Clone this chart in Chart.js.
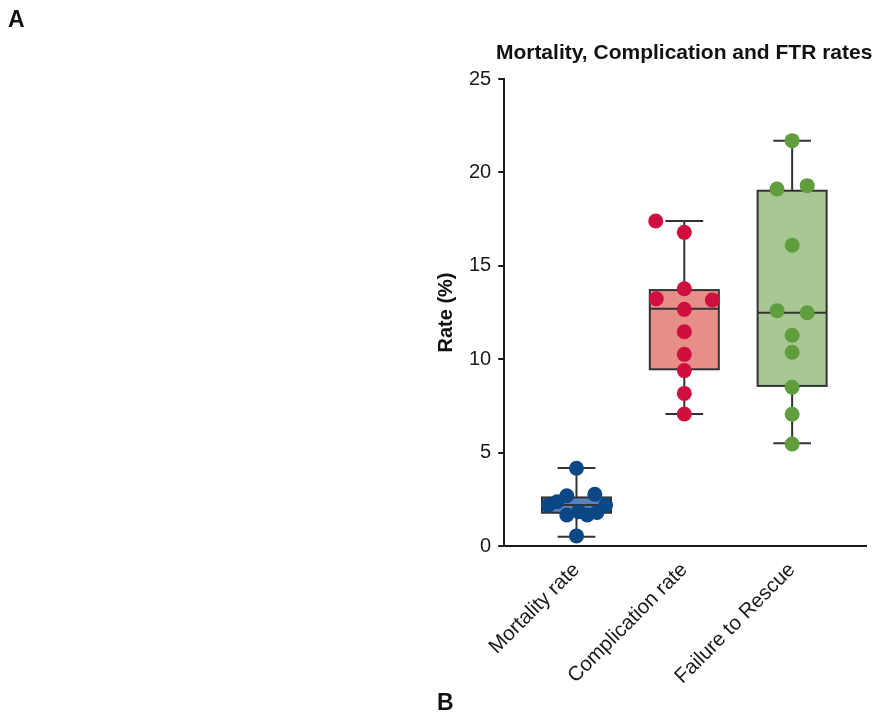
<!DOCTYPE html>
<html>
<head>
<meta charset="utf-8">
<script src="https://cdn.jsdelivr.net/npm/chart.js@4.4.1/dist/chart.umd.min.js"></script>
<style>
    html, body { margin: 0; padding: 0; background: #fff; }
    #wrap { position: absolute; left: 0; top: 0; width: 876px; height: 713px; }
</style>
</head>
<body>
<div id="wrap"><canvas id="boxChart"></canvas></div>
<script>
const categories = ["Mortality rate", "Complication rate", "Failure to Rescue"];
const yTicks = [0, 5, 10, 15, 20, 25];

// per-group values (points), their horizontal jitter in category units
const mortalityValues = [4.16, 0.54, 2.19, 2.37, 2.69, 2.77, 2.19, 1.66, 1.84, 1.66, 1.80];
const mortalityJitter = [0, 0, -0.26, -0.18, -0.09, 0.17, 0.27, -0.09, 0.02, 0.10, 0.19];
const complicationValues = [17.4, 16.79, 13.77, 13.24, 13.17, 12.67, 11.47, 10.26, 9.39, 8.17, 7.07];
const complicationJitter = [-0.265, 0, 0, -0.26, 0.26, 0, 0, 0, 0, 0, 0];
const ftrValues = [21.7, 19.11, 19.29, 16.1, 12.6, 12.49, 11.28, 10.37, 8.5, 7.05, 5.46];
const ftrJitter = [0, -0.14, 0.14, 0, -0.14, 0.14, 0, 0, 0, 0, 0];

// box summaries: [min, q1, median, q3, max]
const mortalityBox = [0.5, 1.78, 2.2, 2.6, 4.18];
const complicationBox = [7.07, 9.46, 12.7, 13.7, 17.4];
const ftrBox = [5.5, 8.57, 12.49, 19.02, 21.7];

const pointColors = ["#0b4785", "#cf0f3e", "#5f9d3d"];
const boxColors = ["#5b82bb", "#e68f88", "#a8c795"];
const ink = "#1a1a1a";

const groups = [
    { values: mortalityValues, jitter: mortalityJitter, box: mortalityBox },
    { values: complicationValues, jitter: complicationJitter, box: complicationBox },
    { values: ftrValues, jitter: ftrJitter, box: ftrBox },
];

const BOX_HALF = 0.32;
const CAP_HALF = 0.175;

// draws boxes + whiskers behind the points
const boxPlotPlugin = {
    id: "boxPlot",
    beforeDatasetsDraw(chart) {
        const { ctx, scales: { x, y } } = chart;
        ctx.save();
        ctx.strokeStyle = "#333";
        ctx.lineWidth = 2;
        groups.forEach((g, i) => {
            const [mn, q1, med, q3, mx] = g.box;
            const cx = x.getPixelForValue(i);
            const l = x.getPixelForValue(i - BOX_HALF);
            const r = x.getPixelForValue(i + BOX_HALF);
            const cl = x.getPixelForValue(i - CAP_HALF);
            const cr = x.getPixelForValue(i + CAP_HALF);

            ctx.beginPath();
            ctx.moveTo(cx, y.getPixelForValue(mx));
            ctx.lineTo(cx, y.getPixelForValue(q3));
            ctx.moveTo(cx, y.getPixelForValue(q1));
            ctx.lineTo(cx, y.getPixelForValue(mn));
            ctx.moveTo(cl, y.getPixelForValue(mx));
            ctx.lineTo(cr, y.getPixelForValue(mx));
            ctx.moveTo(cl, y.getPixelForValue(mn));
            ctx.lineTo(cr, y.getPixelForValue(mn));
            ctx.stroke();

            const top = y.getPixelForValue(q3);
            const bot = y.getPixelForValue(q1);
            ctx.fillStyle = boxColors[i];
            ctx.fillRect(l, top, r - l, bot - top);
            ctx.strokeRect(l, top, r - l, bot - top);

            ctx.beginPath();
            ctx.moveTo(l, y.getPixelForValue(med));
            ctx.lineTo(r, y.getPixelForValue(med));
            ctx.stroke();
        });
        ctx.restore();
    },
    afterDraw(chart) {
        const { ctx, chartArea } = chart;
        ctx.save();
        ctx.fillStyle = "#111";
        ctx.textBaseline = "alphabetic";
        ctx.textAlign = "center";
        ctx.font = "bold 21px 'Liberation Sans', Arial, sans-serif";
        ctx.fillText("Mortality, Complication and FTR rates", (chartArea.left + chartArea.right) / 2 - 1, 59);
        ctx.textAlign = "left";
        ctx.font = "bold 23px 'Liberation Sans', Arial, sans-serif";
        ctx.fillText("A", 8, 27);
        ctx.fillText("B", 437, 710);
        ctx.restore();
    },
};

const ctx = document.getElementById("boxChart").getContext("2d");
new Chart(ctx, {
    type: "scatter",
    data: {
        datasets: groups.map((g, i) => ({
            label: categories[i],
            data: g.values.map((v, k) => ({ x: i + g.jitter[k], y: v })),
            backgroundColor: pointColors[i],
            borderWidth: 0,
            pointRadius: 7.5,
            pointHoverRadius: 7.5,
        })),
    },
    options: {
        responsive: true,
        maintainAspectRatio: false,
        animation: false,
        layout: { padding: { left: 434, right: 10, top: 79, bottom: 20 } },
        plugins: {
            legend: { display: false },
            tooltip: { enabled: false },
        },
        scales: {
            x: {
                type: "linear",
                min: -0.67,
                max: 2.685,
                afterBuildTicks: (scale) => {
                    scale.ticks = categories.map((c, i) => ({ value: i }));
                },
                ticks: {
                    autoSkip: false,
                    minRotation: 45,
                    maxRotation: 45,
                    padding: 4,
                    color: ink,
                    font: { family: "'Liberation Sans', Arial, sans-serif", size: 20.5 },
                    callback: (value) => categories[value],
                },
                grid: { display: false },
                border: { display: true, color: ink, width: 2 },
            },
            y: {
                min: 0,
                max: 25,
                afterBuildTicks: (scale) => {
                    scale.ticks = yTicks.map((v) => ({ value: v }));
                },
                ticks: {
                    padding: 7,
                    color: ink,
                    font: { family: "'Liberation Sans', Arial, sans-serif", size: 20 },
                },
                grid: { drawOnChartArea: false, tickLength: 6, lineWidth: 2, color: ink },
                border: { display: true, color: ink, width: 2 },
                title: {
                    display: true,
                    text: "Rate (%)",
                    color: "#111",
                    padding: { top: 0, bottom: 4 },
                    font: { family: "'Liberation Sans', Arial, sans-serif", size: 20, weight: "bold" },
                },
            },
        },
    },
    plugins: [boxPlotPlugin],
});
</script>
</body>
</html>
